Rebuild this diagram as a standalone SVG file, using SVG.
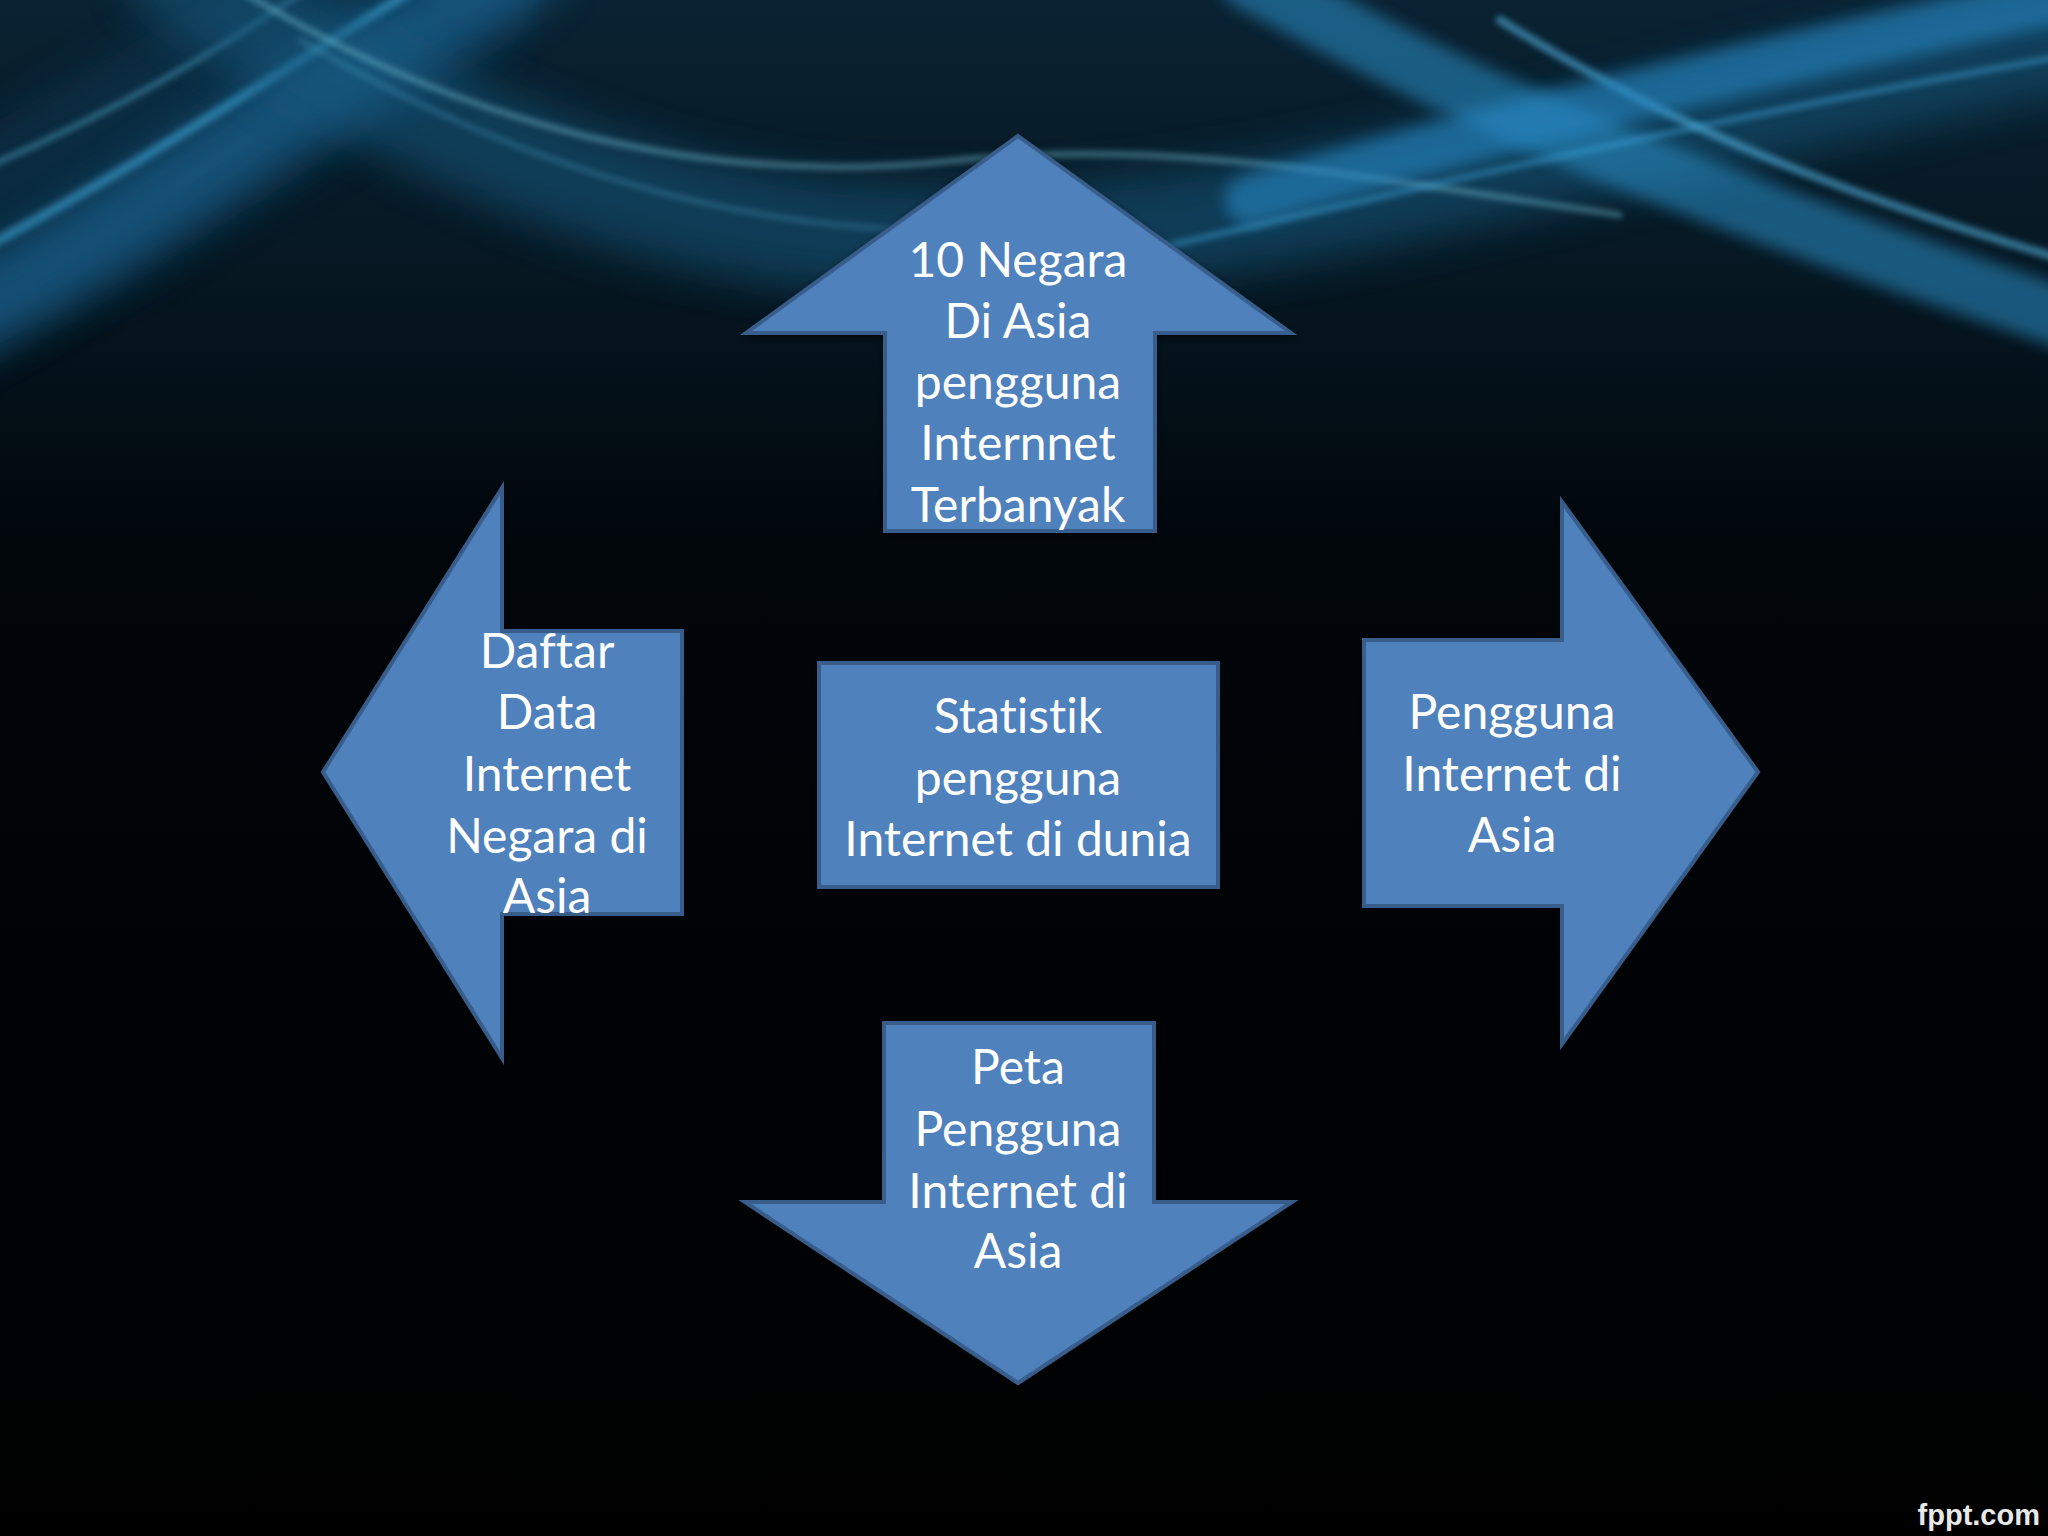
<svg xmlns="http://www.w3.org/2000/svg" width="2048" height="1536" viewBox="0 0 2048 1536">
<defs>
<linearGradient id="bg" x1="0" y1="0" x2="0" y2="1">
<stop offset="0" stop-color="#0a2232"/>
<stop offset="0.18" stop-color="#061722"/>
<stop offset="0.36" stop-color="#01060a"/>
<stop offset="1" stop-color="#000000"/>
</linearGradient>
<filter id="b20" x="-20%" y="-50%" width="140%" height="200%"><feGaussianBlur stdDeviation="20"/></filter>
<filter id="b8" x="-20%" y="-50%" width="140%" height="200%"><feGaussianBlur stdDeviation="8"/></filter>
<filter id="b3" x="-20%" y="-50%" width="140%" height="200%"><feGaussianBlur stdDeviation="3"/></filter>
<filter id="sh" x="-10%" y="-10%" width="120%" height="120%"><feGaussianBlur in="SourceAlpha" stdDeviation="4"/><feOffset dx="0" dy="3"/><feComponentTransfer><feFuncA type="linear" slope="0.5"/></feComponentTransfer><feMerge><feMergeNode/><feMergeNode in="SourceGraphic"/></feMerge></filter>
</defs>
<style>
.shape{fill:#4f81bd;stroke:#385d8a;stroke-width:4;stroke-linejoin:miter}
.lbl{font-family:Lato,"Open Sans","Liberation Sans",sans-serif;font-size:48px;fill:#ffffff;text-anchor:middle;font-variant-ligatures:none}
.wave{fill:none;stroke-linecap:round}
</style>
<rect width="2048" height="1536" fill="url(#bg)"/>
<g id="background-waves">
<path class="wave" d="M -60 260 C 120 180 260 80 440 -30" stroke="#0e3a58" stroke-width="200" opacity="0.5" filter="url(#b20)"/>
<path class="wave" d="M -60 330 C 150 220 300 90 520 -30" stroke="#1a6a9c" stroke-width="80" opacity="0.6" filter="url(#b20)"/>
<path class="wave" d="M -20 250 C 150 160 280 70 430 -20" stroke="#3aa0d0" stroke-width="10" opacity="0.6" filter="url(#b3)"/>
<path class="wave" d="M -20 170 C 120 110 220 50 320 -20" stroke="#5cb8dc" stroke-width="5" opacity="0.5" filter="url(#b3)"/>
<path class="wave" d="M 180 -30 C 380 110 620 230 900 240 C 1200 255 1500 160 2100 30" stroke="#17587e" stroke-width="110" opacity="0.55" filter="url(#b20)"/>
<path class="wave" d="M 240 -10 C 450 120 700 190 960 160 C 1160 140 1320 170 1620 215" stroke="#7cc4d8" stroke-width="5" opacity="0.55" filter="url(#b3)"/>
<path class="wave" d="M 300 40 C 520 170 760 240 1000 230" stroke="#4f9fc0" stroke-width="4" opacity="0.45" filter="url(#b3)"/>
<path class="wave" d="M 1250 -20 C 1450 90 1620 170 2100 330" stroke="#2a8fc8" stroke-width="60" opacity="0.55" filter="url(#b8)"/>
<path class="wave" d="M 1500 20 C 1660 120 1820 190 2100 270" stroke="#55b8e6" stroke-width="8" opacity="0.6" filter="url(#b3)"/>
<path class="wave" d="M 1250 200 C 1550 110 1820 50 2100 -10" stroke="#2687c4" stroke-width="50" opacity="0.6" filter="url(#b8)"/>
<path class="wave" d="M 1150 250 C 1450 180 1750 110 2100 50" stroke="#3fa6dc" stroke-width="6" opacity="0.5" filter="url(#b3)"/>
</g>
<g id="connectors"/>
<g id="node-top">
<path class="shape" filter="url(#sh)" d="M1018 136 L1291 333 L1155 333 L1155 531 L885 531 L885 333 L746 333 Z"/>
<text class="lbl" x="1018" y="277">10 Negara</text>
<text class="lbl" x="1018" y="338">Di Asia</text>
<text class="lbl" x="1018" y="399">pengguna</text>
<text class="lbl" x="1018" y="460">Internnet</text>
<text class="lbl" x="1018" y="522">Terbanyak</text>
</g>
<g id="node-center">
<rect class="shape" filter="url(#sh)" x="819" y="663" width="399" height="224"/>
<text class="lbl" x="1018" y="733">Statistik</text>
<text class="lbl" x="1018" y="795">pengguna</text>
<text class="lbl" x="1018" y="856">Internet di dunia</text>
</g>
<g id="node-left">
<path class="shape" filter="url(#sh)" d="M323 772 L502 488 L502 631 L682 631 L682 914 L502 914 L502 1058 Z"/>
<text class="lbl" x="547" y="668">Daftar</text>
<text class="lbl" x="547" y="729">Data</text>
<text class="lbl" x="547" y="791">Internet</text>
<text class="lbl" x="547" y="853">Negara di</text>
<text class="lbl" x="547" y="913">Asia</text>
</g>
<g id="node-right">
<path class="shape" filter="url(#sh)" d="M1758 772 L1562 502 L1562 640 L1364 640 L1364 906 L1562 906 L1562 1044 Z"/>
<text class="lbl" x="1512" y="729">Pengguna</text>
<text class="lbl" x="1512" y="791">Internet di</text>
<text class="lbl" x="1512" y="852">Asia</text>
</g>
<g id="node-bottom">
<path class="shape" filter="url(#sh)" d="M1018 1383 L1292 1202 L1154 1202 L1154 1023 L884 1023 L884 1202 L745 1202 Z"/>
<text class="lbl" x="1018" y="1084">Peta</text>
<text class="lbl" x="1018" y="1146">Pengguna</text>
<text class="lbl" x="1018" y="1208">Internet di</text>
<text class="lbl" x="1018" y="1268">Asia</text>
</g>
<text x="2040" y="1525" font-family="'Liberation Sans',Arial,sans-serif" font-weight="bold" font-size="29" fill="#e8e8e8" text-anchor="end">fppt.com</text>
</svg>
